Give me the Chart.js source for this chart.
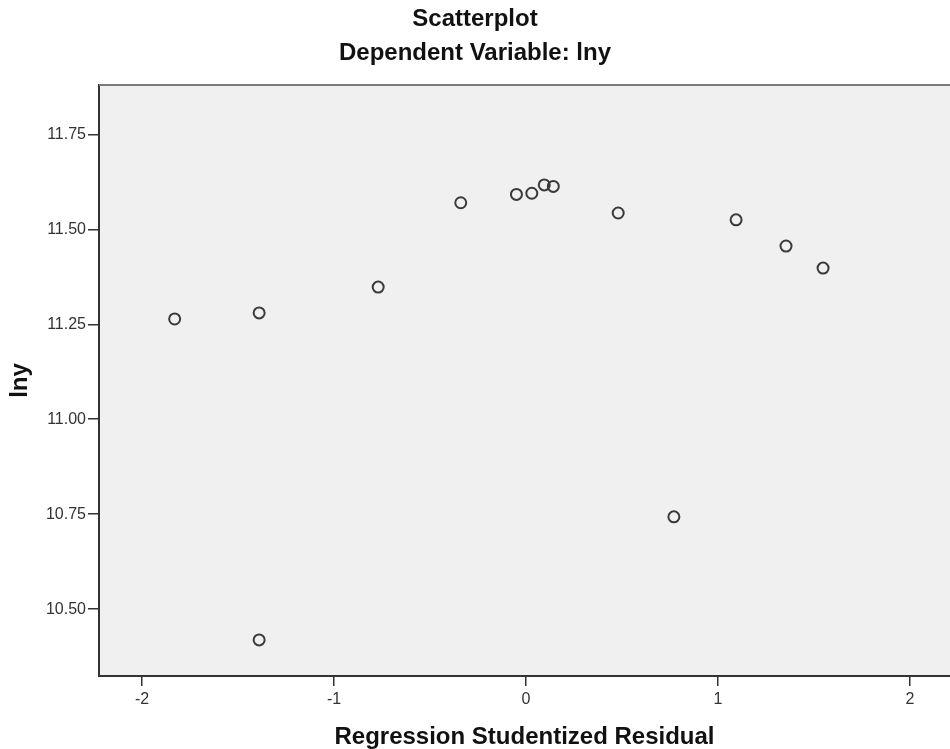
<!DOCTYPE html>
<html>
<head>
<meta charset="utf-8">
<title>Scatterplot</title>
<script src="https://cdn.jsdelivr.net/npm/chart.js@4/dist/chart.umd.min.js"></script>
<style>
    html, body { margin: 0; padding: 0; background: #fff; }
    #chartDiv { width: 950px; height: 749px; }
</style>
</head>
<body>
<div id="chartDiv"><canvas id="scatterChart"></canvas></div>
<script>
// residuals (x) and lny (y)
var residuals = [-1.83, -1.39, -1.39, -0.77, -0.34, -0.05, 0.03, 0.095, 0.142, 0.48, 0.77, 1.094, 1.354, 1.547];
var lny = [11.264, 11.280, 10.419, 11.348, 11.570, 11.592, 11.595, 11.617, 11.613, 11.543, 10.743, 11.525, 11.456, 11.398];

var xTicks = [-2, -1, 0, 1, 2];
var yTicks = [10.50, 10.75, 11.00, 11.25, 11.50, 11.75];

var plotBg = {
    id: 'plotBg',
    beforeDraw: function (chart) {
        var a = chart.chartArea;
        var ctx = chart.ctx;
        ctx.save();
        ctx.fillStyle = '#f0f0f0';
        ctx.fillRect(a.left, a.top, a.right - a.left, a.bottom - a.top);
        ctx.restore();
    },
    afterDraw: function (chart) {
        var a = chart.chartArea;
        var ctx = chart.ctx;
        ctx.save();
        ctx.strokeStyle = '#7a7a7a';
        ctx.lineWidth = 2;
        ctx.beginPath();
        ctx.moveTo(a.left, a.top);
        ctx.lineTo(a.right, a.top);
        ctx.stroke();
        ctx.restore();
    }
};

var points = residuals.map(function (x, i) {
    return { x: x, y: lny[i] };
});

var titleFont = { family: 'Liberation Sans', size: 24, weight: 'bold', lineHeight: 1 };
var tickFont = { family: 'Liberation Sans', size: 16 };

var ctx = document.getElementById('scatterChart').getContext('2d');
var myChart = new Chart(ctx, {
    type: 'scatter',
    data: {
        datasets: [{
            data: points,
            pointStyle: 'circle',
            pointRadius: 5.5,
            pointBorderWidth: 2,
            pointBorderColor: '#3a3a3a',
            pointBackgroundColor: 'rgba(0,0,0,0)',
        }],
    },
    options: {
        responsive: true,
        maintainAspectRatio: false,
        animation: false,
        layout: { padding: 0, autoPadding: false },
        plugins: {
            legend: { display: false },
            tooltip: { enabled: false },
            title: {
                display: true,
                text: 'Scatterplot',
                color: '#111',
                font: titleFont,
                padding: { top: 7, bottom: 4 },
            },
            subtitle: {
                display: true,
                text: 'Dependent Variable: lny',
                color: '#111',
                font: titleFont,
                padding: { top: 6, bottom: 20 },
            },
        },
        scales: {
            x: {
                type: 'linear',
                min: -2.224,
                max: 2.208,
                afterBuildTicks: function (scale) {
                    scale.ticks = xTicks.map(function (v) { return { value: v }; });
                },
                afterFit: function (scale) { scale.height = 73; },
                ticks: {
                    color: '#333',
                    padding: 4,
                    font: tickFont,
                    callback: function (v) { return String(v); },
                },
                grid: {
                    drawOnChartArea: false,
                    drawTicks: true,
                    tickLength: 10,
                    color: '#333',
                    lineWidth: 1.5,
                },
                border: { display: true, color: '#333', width: 2 },
                title: {
                    display: true,
                    text: 'Regression Studentized Residual',
                    color: '#111',
                    font: titleFont,
                    padding: { top: 0, bottom: 0 },
                },
            },
            y: {
                type: 'linear',
                min: 10.324,
                max: 11.88,
                afterBuildTicks: function (scale) {
                    scale.ticks = yTicks.map(function (v) { return { value: v }; });
                },
                afterFit: function (scale) { scale.width = 99; },
                ticks: {
                    color: '#333',
                    padding: 2,
                    font: tickFont,
                    callback: function (v) { return Number(v).toFixed(2); },
                },
                grid: {
                    drawOnChartArea: false,
                    drawTicks: true,
                    tickLength: 11,
                    color: '#333',
                    lineWidth: 1.5,
                },
                border: { display: true, color: '#333', width: 2 },
                title: {
                    display: true,
                    text: 'lny',
                    color: '#111',
                    font: titleFont,
                    padding: { top: 8, bottom: 0 },
                },
            },
        },
    },
    plugins: [plotBg],
});
</script>
</body>
</html>
